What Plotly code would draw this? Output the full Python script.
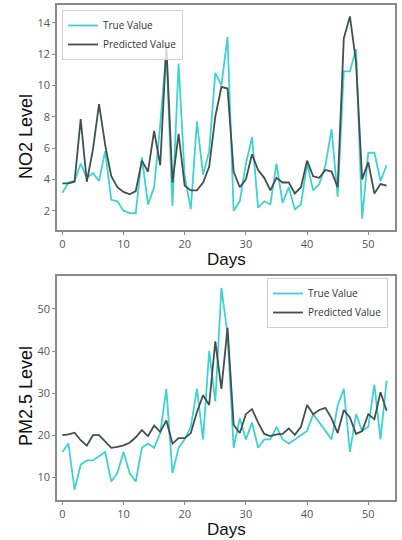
import plotly.graph_objects as go

days = list(range(54))

no2_true = [3.15, 3.8, 3.9, 5.0, 4.1, 4.4, 3.9, 5.8, 2.7, 2.6,
            2.0, 1.85, 1.85, 5.4, 2.4, 3.5, 7.5, 12.2, 2.3, 11.4,
            4.2, 2.1, 7.7, 4.3, 5.8, 10.8, 10.0, 13.1, 2.0, 2.6,
            5.0, 6.7, 2.2, 2.6, 2.4, 5.0, 2.5, 3.5, 2.1, 2.4,
            5.0, 3.3, 3.7, 4.9, 7.2, 2.9, 10.9, 10.9, 12.3, 1.5,
            5.7, 5.7, 3.9, 4.9]
no2_pred = [3.75, 3.75, 3.85, 7.85, 3.85, 5.9, 8.8, 6.2, 4.2, 3.5,
            3.2, 3.05, 3.25, 5.2, 4.5, 7.1, 4.9, 12.6, 3.8, 6.9,
            3.6, 3.3, 3.3, 3.8, 4.8, 8.0, 9.9, 9.8, 4.5, 3.5,
            4.0, 5.6, 4.6, 4.1, 3.3, 4.1, 3.8, 3.8, 3.1, 3.5,
            5.2, 4.2, 4.1, 4.6, 4.5, 3.5, 13.0, 14.4, 11.5, 4.0,
            5.1, 3.1, 3.7, 3.6]

pm_true = [16, 18, 7, 13, 14, 14, 15, 16, 9, 11,
           16, 11, 9, 17, 18, 17, 20.5, 31, 11, 17,
           19, 22, 31, 19, 40, 28, 55, 44, 17, 24,
           19, 23, 17, 19, 19, 22, 19, 18, 19, 20,
           21, 25, 23, 21, 19, 27, 31, 16, 25, 21,
           22, 32, 19, 33]
pm_pred = [20, 20.2, 20.6, 18.8, 17.5, 20, 20, 18.5, 17, 17.2,
           17.6, 18.2, 19.5, 21.2, 19.8, 22.3, 20.8, 23.5, 18, 19.3,
           19.3, 20.5, 25.5, 29.5, 27.2, 42.3, 31, 45.5, 22.5, 20.5,
           25, 26.2, 23, 20.3, 19.8, 20.2, 20.3, 21.6, 20.1, 22,
           27.2, 25, 26, 26.5, 24, 20.5, 26, 24.2, 20.3, 21,
           25, 23.8, 30.2, 25.8]

x_ticks = [0, 10, 20, 30, 40, 50]
no2_ticks = [2, 4, 6, 8, 10, 12, 14]
pm_ticks = [10, 20, 30, 40, 50]

CYAN = "#3fd2d2"
DARK = "#435050"

fig = go.Figure()
fig.add_trace(go.Scatter(x=days, y=no2_true, mode="lines", name="True Value",
                         line=dict(color=CYAN, width=1.8), xaxis="x", yaxis="y", legend="legend"))
fig.add_trace(go.Scatter(x=days, y=no2_pred, mode="lines", name="Predicted Value",
                         line=dict(color=DARK, width=1.8), xaxis="x", yaxis="y", legend="legend"))
fig.add_trace(go.Scatter(x=days, y=pm_true, mode="lines", name="True Value",
                         line=dict(color=CYAN, width=1.8), xaxis="x2", yaxis="y2", legend="legend2"))
fig.add_trace(go.Scatter(x=days, y=pm_pred, mode="lines", name="Predicted Value",
                         line=dict(color=DARK, width=1.8), xaxis="x2", yaxis="y2", legend="legend2"))

axis_common = dict(showgrid=False, zeroline=False, showline=True, mirror=True,
                   linecolor="#8a8a8a", linewidth=1.5, ticks="outside", ticklen=3,
                   tickcolor="#8a8a8a", tickfont=dict(family="Open Sans", size=11, color="#555555"))

fig.update_layout(
    width=402, height=540,
    margin=dict(l=0, r=0, t=0, b=0),
    paper_bgcolor="white", plot_bgcolor="white",
    xaxis=dict(domain=[0.1418, 0.9826], range=[-0.87, 54.37], tickvals=x_ticks,
               anchor="y", **axis_common),
    yaxis=dict(domain=[0.5741, 0.9907], range=[0.77, 15.13], tickvals=no2_ticks,
               anchor="x", **axis_common),
    xaxis2=dict(domain=[0.1418, 0.9826], range=[-0.87, 54.37], tickvals=x_ticks,
                anchor="y2", **axis_common),
    yaxis2=dict(domain=[0.0741, 0.4889], range=[4.6, 57.84], tickvals=pm_ticks,
                anchor="x2", **axis_common),
    legend=dict(x=62/402, y=1-10/540, xanchor="left", yanchor="top",
                bgcolor="rgba(255,255,255,0.8)", bordercolor="#d0d0d0", borderwidth=1,
                font=dict(family="Open Sans", size=10, color="#333333"), tracegroupgap=0),
    legend2=dict(x=388/402, y=1-278/540, xanchor="right", yanchor="top",
                 bgcolor="rgba(255,255,255,0.8)", bordercolor="#d0d0d0", borderwidth=1,
                 font=dict(family="Open Sans", size=10, color="#333333"), tracegroupgap=0),
    showlegend=True,
)

title_font = dict(family="Liberation Sans", size=17, color="#111111")
fig.add_annotation(text="Days", x=0.5*(0.1418+0.9826), y=1-259/540, xref="paper", yref="paper",
                   showarrow=False, font=title_font, xanchor="center", yanchor="middle")
fig.add_annotation(text="Days", x=0.5*(0.1418+0.9826), y=1-529/540, xref="paper", yref="paper",
                   showarrow=False, font=title_font, xanchor="center", yanchor="middle")
fig.add_annotation(text="NO2 Level", x=26/402, y=1-137/540, xref="paper", yref="paper",
                   showarrow=False, font=dict(family="Liberation Sans", size=18, color="#111111"),
                   textangle=-90, xanchor="center", yanchor="middle")
fig.add_annotation(text="PM2.5 Level", x=26/402, y=1-396/540, xref="paper", yref="paper",
                   showarrow=False, font=dict(family="Liberation Sans", size=18, color="#111111"),
                   textangle=-90, xanchor="center", yanchor="middle")

fig.write_html("out.html", config={"displayModeBar": False},
               post_script="document.body.style.margin='0';document.body.style.overflow='hidden';")
